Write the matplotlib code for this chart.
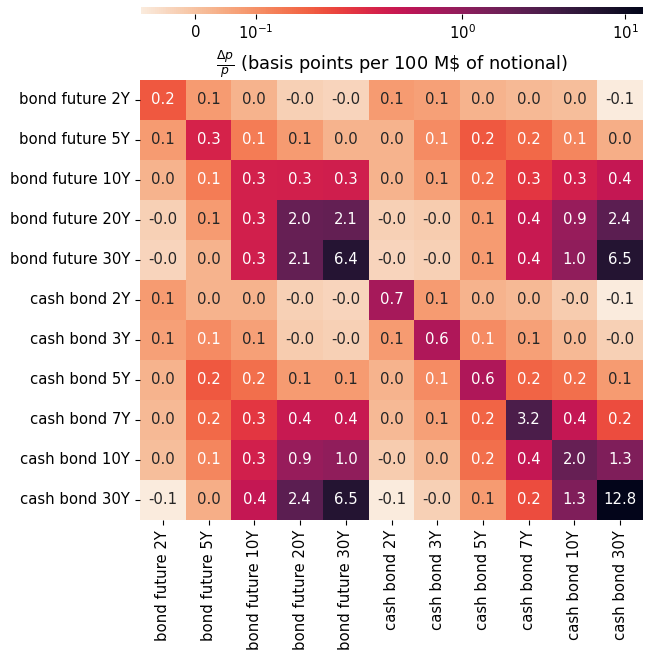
import matplotlib
matplotlib.use("Agg")
import matplotlib.pyplot as plt
import matplotlib.colors as mcolors
import numpy as np
import seaborn as sns

plt.rcParams['font.size'] = 10.7

# labels for rows / columns
labels = ['bond future 2Y', 'bond future 5Y', 'bond future 10Y', 'bond future 20Y',
          'bond future 30Y', 'cash bond 2Y', 'cash bond 3Y', 'cash bond 5Y',
          'cash bond 7Y', 'cash bond 10Y', 'cash bond 30Y']

# price impact matrix (bp per 100 M$ notional)
impact = [
    [0.20, 0.08, 0.03, -0.03, -0.04, 0.08, 0.07, 0.03, 0.02, 0.01, -0.09],
    [0.08, 0.30, 0.14, 0.08, 0.03, 0.03, 0.11, 0.20, 0.17, 0.12, 0.04],
    [0.03, 0.14, 0.32, 0.33, 0.34, 0.03, 0.07, 0.16, 0.26, 0.33, 0.42],
    [-0.03, 0.08, 0.33, 2.00, 2.10, -0.03, -0.02, 0.08, 0.40, 0.90, 2.40],
    [-0.04, 0.03, 0.34, 2.10, 6.40, -0.04, -0.03, 0.08, 0.40, 1.00, 6.50],
    [0.08, 0.03, 0.03, -0.03, -0.04, 0.70, 0.08, 0.03, 0.02, -0.02, -0.09],
    [0.07, 0.11, 0.07, -0.02, -0.03, 0.08, 0.60, 0.11, 0.07, 0.02, -0.03],
    [0.03, 0.20, 0.16, 0.08, 0.08, 0.03, 0.11, 0.60, 0.18, 0.16, 0.08],
    [0.02, 0.17, 0.26, 0.40, 0.40, 0.02, 0.07, 0.18, 3.20, 0.42, 0.22],
    [0.01, 0.12, 0.33, 0.90, 1.00, -0.02, 0.02, 0.16, 0.42, 2.00, 1.30],
    [-0.09, 0.04, 0.42, 2.40, 6.50, -0.09, -0.03, 0.08, 0.22, 1.30, 12.80],
]

data = np.array(impact)

fig = plt.figure(figsize=(6.57, 6.5), dpi=100)
ax = fig.add_axes([0.2131, 0.2, 0.7656, 0.677])
cax = fig.add_axes([0.2146, 0.9785, 0.764, 0.0115])

norm = mcolors.SymLogNorm(linthresh=0.3, linscale=1.0,
                          vmin=data.min(), vmax=data.max(), base=10)

sns.heatmap(data, ax=ax, cbar_ax=cax, cmap='rocket_r', norm=norm,
            annot=True, fmt='.1f', xticklabels=labels, yticklabels=labels,
            cbar_kws={'orientation': 'horizontal'})

ax.set_xticklabels(labels, rotation=90)
ax.set_yticklabels(labels, rotation=0)
ax.set_title(r'$\frac{\Delta p}{p}$ (basis points per 100 M\$ of notional)', fontsize=12.8)

cbar = ax.collections[0].colorbar
cbar.set_ticks([0, 0.1, 1, 10])

fig.savefig('out.png', dpi=100)
